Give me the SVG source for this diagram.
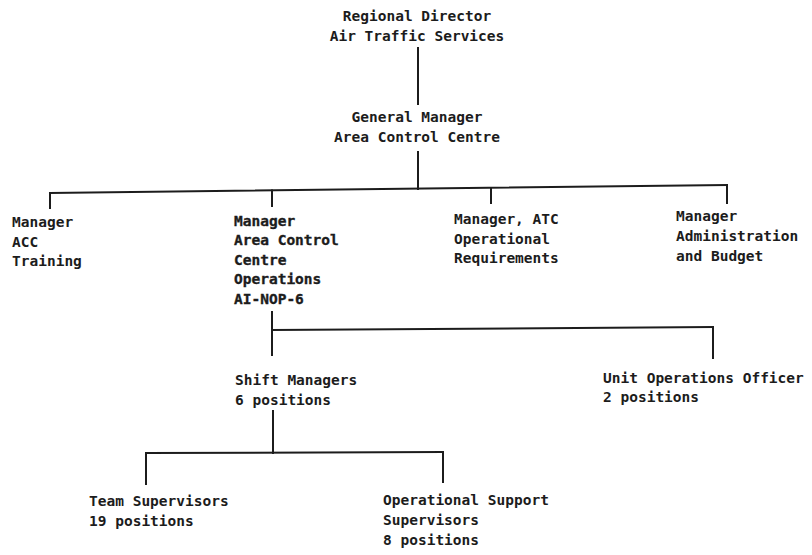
<svg xmlns="http://www.w3.org/2000/svg" width="812" height="555" viewBox="0 0 812 555">
<style>
  text { font-family: "DejaVu Sans Mono", "Liberation Mono", monospace; font-weight: bold; font-size: 14.5px; letter-spacing: 0; fill: #1c1c1c; }
  .mid { text-anchor: middle; }
  .heavy text { stroke: #1c1c1c; stroke-width: 0.35px; }
  .conn { stroke: #1c1c1c; stroke-width: 2; fill: none; stroke-linecap: square; }
</style>
<rect width="812" height="555" fill="#ffffff"/>
<g id="connectors" class="conn">
  <line x1="418" y1="48" x2="418" y2="104"/>
  <line x1="418" y1="152" x2="418" y2="189"/>
  <line x1="50" y1="193" x2="727" y2="185"/>
  <line x1="50" y1="193" x2="50" y2="208"/>
  <line x1="272" y1="190.5" x2="272" y2="206"/>
  <line x1="491" y1="188" x2="491" y2="203"/>
  <line x1="727" y1="185" x2="727" y2="203"/>
  <line x1="272" y1="312" x2="272" y2="355"/>
  <line x1="272" y1="330" x2="713" y2="327"/>
  <line x1="713" y1="327" x2="713" y2="358"/>
  <line x1="273" y1="411" x2="273" y2="453"/>
  <line x1="146" y1="453" x2="443" y2="452"/>
  <line x1="146" y1="453" x2="146" y2="484"/>
  <line x1="443" y1="452" x2="443" y2="482"/>
</g>
<g id="regional-director">
  <text class="mid" x="417" y="21">Regional Director</text>
  <text class="mid" x="417" y="41">Air Traffic Services</text>
</g>
<g id="general-manager">
  <text class="mid" x="417" y="122">General Manager</text>
  <text class="mid" x="417" y="142">Area Control Centre</text>
</g>
<g id="manager-acc-training">
  <text x="12" y="227">Manager</text>
  <text x="12" y="247">ACC</text>
  <text x="12" y="266">Training</text>
</g>
<g id="manager-acc-operations" class="heavy">
  <text x="234" y="226">Manager</text>
  <text x="234" y="245">Area Control</text>
  <text x="234" y="265">Centre</text>
  <text x="234" y="284">Operations</text>
  <text x="234" y="304">AI-NOP-6</text>
</g>
<g id="manager-atc-requirements">
  <text x="454" y="224">Manager, ATC</text>
  <text x="454" y="244">Operational</text>
  <text x="454" y="263">Requirements</text>
</g>
<g id="manager-administration">
  <text x="676" y="221">Manager</text>
  <text x="676" y="241">Administration</text>
  <text x="676" y="261">and Budget</text>
</g>
<g id="shift-managers">
  <text x="235" y="385">Shift Managers</text>
  <text x="235" y="405">6 positions</text>
</g>
<g id="unit-operations-officer">
  <text x="603" y="383">Unit Operations Officer</text>
  <text x="603" y="402">2 positions</text>
</g>
<g id="team-supervisors">
  <text x="89" y="506">Team Supervisors</text>
  <text x="89" y="526">19 positions</text>
</g>
<g id="operational-support-supervisors">
  <text x="383" y="505">Operational Support</text>
  <text x="383" y="525">Supervisors</text>
  <text x="383" y="545">8 positions</text>
</g>
</svg>
